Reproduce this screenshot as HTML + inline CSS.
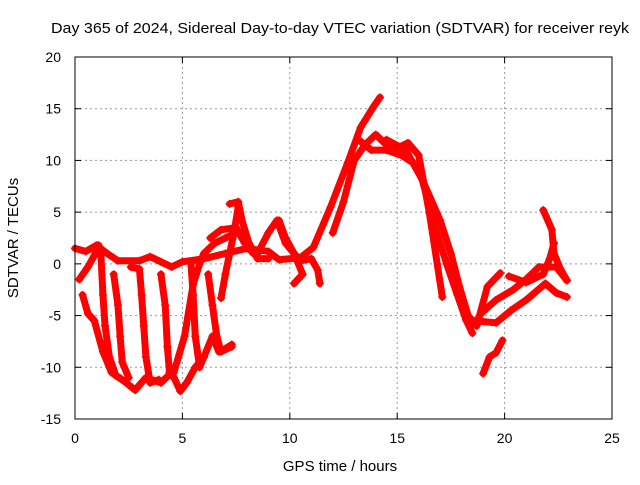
<!DOCTYPE html>
<html><head><meta charset="utf-8"><style>
body{margin:0;background:#fff}
svg text{font-family:"Liberation Sans",sans-serif;font-size:14px;fill:#000}
</style></head><body>
<svg id="chart" width="640" height="480">
<text x="340" y="33" text-anchor="middle" textLength="578" lengthAdjust="spacingAndGlyphs" style="font-size:15px">Day 365 of 2024, Sidereal Day-to-day VTEC variation (SDTVAR) for receiver reyk</text>
<g id="grid"></g>
<g id="ticks"></g>
<g id="series"></g>
<rect x="75" y="57" width="537" height="362" fill="none" stroke="#000" stroke-width="1"/>
<text x="340" y="471" text-anchor="middle" style="font-size:15px">GPS time / hours</text>
<text transform="translate(18,238) rotate(-90)" text-anchor="middle" style="font-size:15px">SDTVAR / TECUs</text>
</svg>
<script>
const xTicks=[0,5,10,15,20,25];
const yTicks=[-15,-10,-5,0,5,10,15,20];
const track1=[[0,1.5],[0.5,1.2],[1,1.8],[1.5,1],[2,0.3],[3,0.3],[3.5,0.7],[4,0.2],[4.5,-0.3],[5,0.2],[6,0.5],[7,1],[8,1.5],[9,1.2],[9.5,0.4],[10.5,0.6],[11.1,1.6],[11.9,5.5],[12.7,9.8],[13.3,13.2],[13.9,15.2],[14.2,16.1]];
const track2=[[0.2,-1.5],[0.6,-0.3],[0.9,0.8],[1.1,1.8]];
const track3=[[0.35,-3],[0.6,-4.8],[0.9,-5.5],[1.3,-8.5],[1.7,-10.5],[2.2,-11.2],[2.8,-12.2],[3.3,-11],[4,-11.5],[4.5,-10.5],[4.9,-12.3],[5.2,-11.5],[5.6,-10],[6,-9],[6.4,-7],[6.7,-8.5],[7,-8.2],[7.3,-7.8]];
const track4=[[1.2,1.2],[1.3,-3],[1.4,-6],[1.6,-9],[1.9,-10.8],[2.4,-11.5]];
const track5=[[1.8,-1],[2,-4],[2.1,-7],[2.2,-9.5],[2.5,-11]];
const track6=[[2.6,-0.3],[3,-0.5],[3.1,-3],[3.2,-6],[3.3,-9],[3.5,-11.5],[3.9,-11.2]];
const track7=[[4,-1],[4.2,-4],[4.3,-8],[4.4,-10.5],[4.6,-11]];
const track8=[[4.6,-10.5],[5.1,-7],[5.5,-2],[5.8,0],[6,1],[6.5,2],[7,2.5],[7.5,3]];
const track9=[[5.4,0],[5.5,-3],[5.6,-7],[5.8,-10],[6,-9]];
const track10=[[6.2,-1],[6.4,-4],[6.6,-7],[6.8,-8.5],[7.3,-8]];
const track11=[[6.8,-3.3],[7,-1],[7.2,1],[7.4,3],[7.6,5.5]];
const track12=[[7.2,5.8],[7.6,6],[7.8,4],[8.1,2],[8.5,0.5],[9,0.5]];
const track13=[[6.3,2.5],[6.8,3.3],[7.5,3.5],[7.9,2],[8.3,1]];
const track14=[[8.5,1],[9,3],[9.4,4.2],[9.8,2],[10.2,1],[10.5,0.3],[11,0.5],[11.3,-0.6],[11.4,-1.9]];
const track15=[[9.5,4.2],[9.8,2.5],[10.2,1],[10.6,-1],[10.2,-1.9]];
const track16=[[12,3],[12.5,6],[13,10],[13.5,11.5],[14,12.5],[14.5,11.5],[15,11.2],[15.5,11.7],[16,10.5],[16.5,4.9],[17.1,-3.2]];
const track17=[[13.2,12],[13.8,11],[14.5,11],[15.2,10.5],[16,9.4],[16.7,4],[17.3,0],[17.8,-3],[18.2,-5.4],[18.5,-6.7]];
const track18=[[14.5,12],[15.4,11],[16.2,8],[17,4.2],[17.5,1],[17.9,-2.2],[18.3,-5],[18.7,-6],[19.2,-2.2],[19.8,-0.9]];
const track19=[[18.9,-4.8],[19.6,-3.5],[20.4,-2.5],[21,-1.5],[21.6,-0.3],[22.4,-0.3],[22.9,-1.6]];
const track20=[[18.6,-5.5],[19.6,-5.7],[20.3,-4.5],[21,-3.5],[21.9,-1.9],[22.4,-2.8],[22.9,-3.2]];
const track21=[[21.8,5.2],[22.2,3.3],[22.3,1],[22.6,-0.5],[22.9,-1.6]];
const track22=[[20.2,-1.2],[21,-1.8],[21.8,-1],[22.1,0.5],[22.3,2]];
const track23=[[19,-10.6],[19.3,-9],[19.6,-8.6],[19.9,-7.4]];
const tracks=[track1,track2,track3,track4,track5,track6,track7,track8,track9,track10,track11,track12,track13,track14,track15,track16,track17,track18,track19,track20,track21,track22,track23];

const X0=75,X1=612,Y0=419,Y1=57;
const xs=v=>X0+(v-0)/(25-0)*(X1-X0);
const ys=v=>Y0-(v-(-15))/(20-(-15))*(Y0-Y1);
const NS="http://www.w3.org/2000/svg";
const grid=document.getElementById('grid'),ticks=document.getElementById('ticks'),ser=document.getElementById('series');
function mk(tag,attrs,parent){const e=document.createElementNS(NS,tag);for(const k in attrs)e.setAttribute(k,attrs[k]);parent.appendChild(e);return e;}
xTicks.forEach(t=>{
  const x=xs(t);
  if(t>0&&t<25){const g=mk('line',{x1:x,y1:Y0,x2:x,y2:Y1,stroke:'#999','stroke-dasharray':'2,3'},grid);
  
  }
  mk('line',{x1:x,y1:Y0,x2:x,y2:Y0-6,stroke:'#000'},ticks);
  mk('line',{x1:x,y1:Y1,x2:x,y2:Y1+6,stroke:'#000'},ticks);
  const l=mk('text',{x:x,y:443,'text-anchor':'middle'},ticks);l.textContent=t;
  
  
});
yTicks.forEach(t=>{
  const y=ys(t);
  if(t>-15&&t<20){const g=mk('line',{x1:X0,y1:y,x2:X1,y2:y,stroke:'#999','stroke-dasharray':'2,3'},grid);
  
  }
  mk('line',{x1:X0,y1:y,x2:X0+6,y2:y,stroke:'#000'},ticks);
  mk('line',{x1:X1,y1:y,x2:X1-6,y2:y,stroke:'#000'},ticks);
  const l=mk('text',{x:61,y:y+5,'text-anchor':'end'},ticks);l.textContent=t;
  
  
});
tracks.forEach((tr,i)=>{
  const pts=tr.map(p=>xs(p[0])+','+ys(p[1])).join(' ');
  const pl=mk('polyline',{points:pts,fill:'none',stroke:'#f00','stroke-width':7,'stroke-linejoin':'round','stroke-linecap':'round'},ser);
  
  
  tr.forEach(p=>{
    const x=xs(p[0]),y=ys(p[1]);
    const m=mk('path',{d:`M${x-4},${y}H${x+4}M${x},${y-4}V${y+4}`,stroke:'#f00','stroke-width':1.5},ser);
    
    
  });
});
</script>
</body></html>
